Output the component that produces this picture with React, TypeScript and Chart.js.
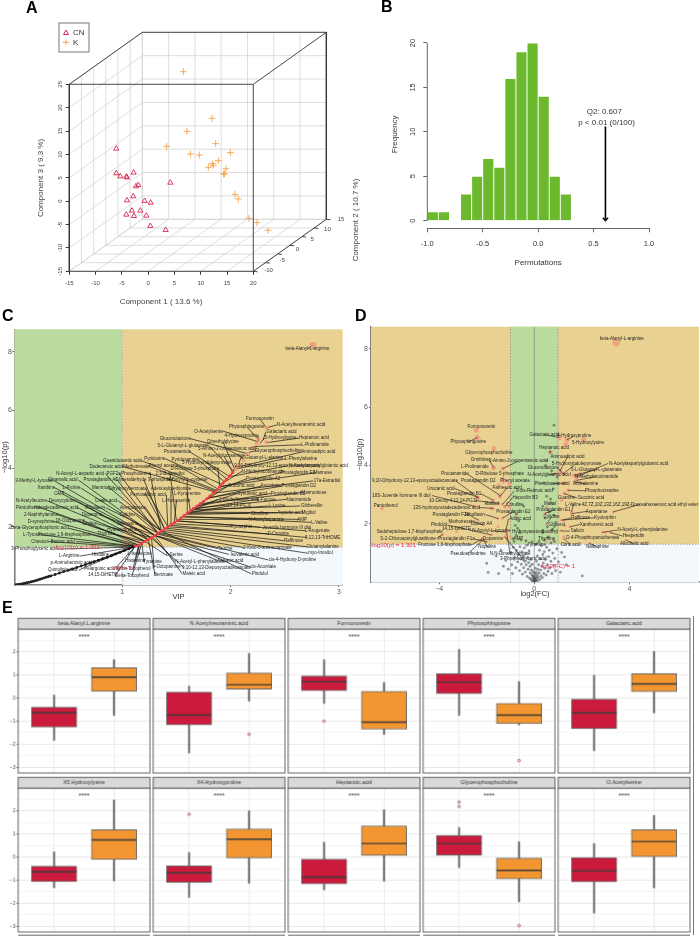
import React, { useEffect, useRef } from "react";
import { Chart, registerables } from "chart.js";

Chart.register(...registerables);
Chart.defaults.font.family = '"Liberation Sans", Arial, sans-serif';

/* ---------- Panel A: projected score positions ---------- */
const cnComp1 = [-6.06, -6.06, -5.3, -4.16, -4.03, -2.76, -1.87, -2.32, 4.21, -2.83, -4.03, -0.67, 0.47, -1.49, -3.08, -4.16, -2.7, -0.35, 0.41, 3.33];
const cnComp3 = [11.23, 5.96, 5.31, 5.24, 5.1, 6.1, 3.46, 3.18, 3.96, 1.04, 0.18, 0.04, -0.32, -2.03, -2.03, -2.88, -3.17, -3.1, -5.31, -6.16];
const kComp1 = [6.69, 12.14, 7.38, 12.84, 3.52, 8.02, 9.73, 15.63, 13.35, 12.2, 12.39, 11.44, 14.8, 14.36, 14.5, 16.52, 17.15, 19.18, 20.7, 22.79];
const kComp3 = [27.69, 17.72, 14.94, 12.3, 11.73, 10.09, 9.88, 10.37, 8.66, 8.02, 7.67, 7.24, 6.95, 5.81, 5.85, 1.46, 0.47, -3.67, -4.59, -6.23];
const comp1Ticks = [-15, -10, -5, 0, 5, 10, 15, 20];
const comp3Ticks = [-15, -10, -5, 0, 5, 10, 15, 20, 25];
const comp2Ticks = [-15, -10, -5, 0, 5, 10, 15];

/* ---------- Panel B: permutation histogram ---------- */
const permBins = [-0.95, -0.85, -0.75, -0.65, -0.55, -0.45, -0.35, -0.25, -0.15, -0.05, 0.05, 0.15, 0.25];
const permCounts = [1, 1, 0, 3, 5, 7, 6, 16, 19, 20, 14, 5, 3];
const q2Value = 0.607;

/* ---------- Panel C: VIP against -log10(p) ---------- */
const cLowVip = [0.02, 0.04, 0.06, 0.08, 0.1, 0.12, 0.14, 0.16, 0.18, 0.2, 0.22, 0.24, 0.26, 0.28, 0.3, 0.32, 0.34, 0.38, 0.42, 0.46, 0.5, 0.54, 0.58, 0.62, 0.66, 0.7, 0.74, 0.78, 0.82, 0.86, 0.9, 0.94, 0.98, 1.02, 1.06, 1.1];
const cLowP = [0.01, 0.02, 0.03, 0.045, 0.06, 0.075, 0.09, 0.11, 0.13, 0.15, 0.17, 0.195, 0.22, 0.245, 0.27, 0.29, 0.31, 0.36, 0.41, 0.46, 0.5, 0.55, 0.6, 0.65, 0.7, 0.75, 0.8, 0.85, 0.9, 0.95, 1, 1.06, 1.12, 1.18, 1.24, 1.3];
const cMidVip = [1.12, 1.15, 1.18, 1.21, 1.24, 1.27, 1.3, 1.33, 1.36, 1.39, 1.42, 1.45, 1.48, 1.51, 1.54, 1.57, 1.6, 1.63, 1.66, 1.69, 1.72, 1.75, 1.78, 1.81, 1.84, 1.87, 1.9, 1.93, 1.96, 1.99, 2.02];
const cMidP = [1.33, 1.37, 1.43, 1.5, 1.55, 1.62, 1.7, 1.78, 1.85, 1.92, 2, 2.07, 2.14, 2.21, 2.3, 2.38, 2.46, 2.55, 2.63, 2.71, 2.79, 2.87, 2.96, 3.05, 3.15, 3.25, 3.38, 3.5, 3.62, 3.74, 3.86];
const cTopVip = [2.76, 2.33, 2.26, 2.33, 2.24, 2.2, 2.16, 2.12, 2.08, 2.05];
const cTopP = [8.23, 5.4, 4.98, 4.9, 4.85, 4.7, 4.5, 4.28, 4.1, 3.98];
const cNames = [
  "beta-Alanyl-L-arginine", "Formononetin", "N-Acetylneuraminic acid", "Phytosphingosine", "Galactaric acid",
  "O-Acetylserine", "4-Hydroxyproline", "5-Hydroxylysine", "Heptanoic acid", "Gluconolactone",
  "Dimethylglycine", "5-L-Glutamyl-L-glutamate", "L-Prolinamide", "Glycerophosphocholine", "5-Amino-2-oxopentanoic acid",
  "Procainamide", "Aminoadipic acid", "N-Acetylglucosamine", "L-Glutamyl-L-alanine", "L-Phenylalanine",
  "Pyridoxine", "Guanidoacetic acid", "Pyridoxamine", "5-Hydroxyindolepyruvate", "9,10-Dihydroxy-12,13-epoxyoctadecanoate",
  "N-Acetylaspartylglutamic acid", "Dodecanoic acid", "Methotrexate", "Phenyl acetate", "D-Ribulose 5-phosphate",
  "N-Methylnicotinamide", "Mannose", "Prostaglandin E1", "Prostaglandin A2", "17a-Estradiol",
  "Prostaglandin D2", "Ascorbate", "Succinic acid", "Mannotriose", "Prostaglandin B1",
  "Kynurenic acid", "Niacinamide", "L-Fucose", "2-Methylbutyric acid", "Gibberellin",
  "L-Lysine", "10,14-PGJ2", "Miglitol", "Aspartic acid", "Citrulline",
  "L-Valine", "AMP", "N-Acetylaspartate", "L-Arogenate", "Juvenile hormone III diol",
  "Kyotorphin", "9,12,13-TriHOME", "D-Ocopine", "Raffinose", "Glutamylalanine",
  "myo-Inositol", "2-Keto-6-aminocaproate", "cis-4-Hydroxy-D-proline", "cis-Aconitate", "Pindolol",
  "Isovaleric acid", "Taurine", "Sebacic acid", "N-Acetyl-L-phenylalanine", "9,10-12,13-Diepoxyoctadecanoate",
  "Maleic acid", "p-Octopamine", "Benzoate", "Delta-Tocopherol", "14,15-DiHETE",
  "Quinolinic acid", "Pelargonic acid", "alpha-Tocopherol", "p-Aminobenzoic acid", "L-Arginine",
  "Histidine", "L-Isoleucine", "L-Serine", "Tyramine", "Histamine",
  "3-Phosphoglyceric acid", "Chavicol", "L-Tyrosine", "Fructose 1,6-bisphosphate", "Beta-Glycerophosphoric acid",
  "Biotinic acid", "D-synephrine", "18-Oocpamine", "2-Naphthylamine", "Pantothenol",
  "Hexadecadienoic acid", "N-Acetylleucine", "Deoxycytidine", "GMP", "Xanthine",
  "L-Proline", "3-Methyl-L-tyrosine", "Citramalic acid", "N-Acetyl-L-aspartic acid", "Prostaglandin A1",
  "PGF2a", "Phosphoserine", "2,3-Butanediol", "Mannitol", "Glyceraldehyde 3-phosphate",
  "N-Butyryl-L-cysteine", "Dihydroxybenzoate", "Adenosylmethionine", "L-Kynurenine", "Pentose",
  "Adipic acid", "Oxalic acid", "L-Homoserine", "Riboflavin", "Acetoacetate",
  "Dopamine", "Cytidine", "Uridine", "Adenosine", "Thymine",
  "Hydroxyproline",
];
const cVip = [
  2.76, 2.33, 2.34, 2.26, 2.3,
  2.25, 2.26, 2.27, 2.33, 2.16,
  2.04, 2.03, 2.22, 2.17, 2.12,
  1.98, 2.07, 2.02, 2.06, 2.05,
  1.92, 1.87, 1.94, 1.96, 2.0,
  2.0, 1.85, 1.86, 1.88, 1.9,
  1.93, 1.9, 1.89, 1.86, 1.84,
  1.8, 1.78, 1.75, 1.72, 1.7,
  1.68, 1.66, 1.65, 1.62, 1.64,
  1.62, 1.6, 1.62, 1.6, 1.58,
  1.56, 1.55, 1.52, 1.5, 1.5,
  1.46, 1.44, 1.42, 1.4, 1.38,
  1.36, 1.34, 1.33, 1.3, 1.36,
  1.3, 1.32, 1.3, 1.28, 1.27,
  1.3, 1.27, 1.24, 1.18, 1.12,
  1.1, 1.12, 1.15, 1.1, 1.1,
  1.12, 1.15, 1.21, 1.18, 1.16,
  1.1, 1.1, 1.12, 1.12, 1.13,
  1.12, 1.15, 1.15, 1.18, 1.18,
  1.21, 1.21, 1.24, 1.24, 1.27,
  1.3, 1.27, 1.3, 1.33, 1.33,
  1.36, 1.36, 1.5, 1.36, 1.39,
  1.6, 1.42, 1.45, 1.63, 1.39,
  1.42, 1.36, 1.48, 1.33, 1.36,
  1.3, 1.33, 1.27, 1.3, 1.2,
  1.24,
];
const cLogP = [
  8.23, 5.4, 5.4, 4.98, 4.98,
  4.92, 4.93, 4.85, 4.88, 4.5,
  3.95, 3.9, 4.75, 4.55, 4.35,
  3.75, 4.05, 3.85, 4.0, 3.98,
  3.45, 3.25, 3.55, 3.65, 3.75,
  3.72, 3.2, 3.22, 3.3, 3.4,
  3.5, 3.38, 3.35, 3.22, 3.15,
  3.0, 2.96, 2.87, 2.79, 2.72,
  2.68, 2.63, 2.6, 2.52, 2.58,
  2.52, 2.46, 2.5, 2.46, 2.42,
  2.36, 2.33, 2.25, 2.2, 2.2,
  2.1, 2.05, 2.0, 1.95, 1.9,
  1.85, 1.8, 1.78, 1.7, 1.85,
  1.7, 1.75, 1.7, 1.65, 1.62,
  1.7, 1.62, 1.55, 1.43, 1.33,
  1.3, 1.33, 1.37, 1.3, 1.3,
  1.33, 1.37, 1.5, 1.43, 1.4,
  1.3, 1.3, 1.33, 1.33, 1.35,
  1.33, 1.37, 1.37, 1.43, 1.43,
  1.5, 1.5, 1.55, 1.55, 1.62,
  1.7, 1.62, 1.7, 1.78, 1.78,
  1.85, 1.85, 2.2, 1.85, 1.92,
  2.46, 2.0, 2.07, 2.55, 1.92,
  2.0, 1.85, 2.14, 1.78, 1.85,
  1.7, 1.78, 1.62, 1.7, 1.5,
  1.55,
];
const cLabelVip = [
  2.71, 2.27, 2.65, 2.15, 2.47,
  1.8, 2.1, 2.46, 2.77, 1.49,
  1.93, 1.56, 2.78, 2.44, 1.97,
  1.51, 2.81, 1.94, 2.29, 2.65,
  1.3, 1.0, 1.58, 1.78, 2.43,
  2.81, 0.85, 1.13, 1.38, 1.67,
  2.3, 2.85, 2.62, 2.3, 2.89,
  2.63, 2.37, 2.1, 2.77, 2.53,
  2.2, 2.63, 2.33, 2.08, 2.75,
  2.43, 2.08, 2.72, 2.55, 2.27,
  2.82, 2.66, 2.33, 2.8, 2.52,
  2.1, 2.85, 2.44, 2.58, 2.85,
  2.83, 2.34, 2.57, 2.3, 2.27,
  2.13, 1.95, 2.0, 1.72, 1.87,
  1.66, 1.41, 1.38, 1.09, 0.82,
  0.45, 0.79, 1.1, 0.53, 0.51,
  0.8, 1.16, 1.48, 1.28, 1.12,
  0.19, 0.24, 0.18, 0.47, 0.24,
  0.45, 0.25, 0.52, 0.25, 0.13,
  0.39, 0.16, 0.45, 0.42, 0.3,
  0.53, 0.19, 0.45, 0.61, 0.8,
  0.92, 1.13, 1.44, 0.8, 1.2,
  1.6, 1.05, 1.45, 1.6, 1.15,
  1.3, 0.85, 1.5, 0.75, 1.1,
  0.72, 1.05, 0.7, 1.05, 0.85,
  1.0,
];
const cLabelP = [
  8.09, 5.69, 5.49, 5.42, 5.25,
  5.27, 5.12, 5.04, 5.04, 5.02,
  4.91, 4.79, 4.81, 4.61, 4.66,
  4.56, 4.56, 4.42, 4.38, 4.33,
  4.33, 4.27, 4.31, 4.19, 4.09,
  4.09, 4.07, 4.07, 4.09, 3.98,
  3.9, 3.85, 3.85, 3.64, 3.57,
  3.39, 3.39, 3.39, 3.17, 3.14,
  3.14, 2.94, 2.94, 2.94, 2.71,
  2.71, 2.71, 2.48, 2.47, 2.46,
  2.15, 2.25, 2.25, 1.86, 1.98,
  2.0, 1.63, 1.75, 1.52, 1.31,
  1.09, 1.28, 0.86, 0.63, 0.38,
  1.05, 1.25, 0.84, 0.8, 0.59,
  0.38, 0.63, 0.35, 0.33, 0.34,
  0.51, 0.57, 0.56, 0.77, 0.99,
  1.03, 1.06, 1.03, 0.8, 0.82,
  1.23, 1.49, 1.71, 1.73, 1.95,
  1.49, 2.18, 2.21, 2.42, 2.66,
  2.66, 2.89, 2.89, 3.12, 3.33,
  3.33, 3.57, 3.6, 3.83, 3.6,
  3.83, 3.83, 3.83, 3.35, 3.6,
  3.6, 3.3, 3.3, 3.13, 3.1,
  3.1, 2.9, 2.9, 2.65, 2.65,
  2.4, 2.4, 2.1, 2.1, 1.75,
  1.9,
];

/* ---------- Panel D: volcano plot ---------- */
const dNames = [
  "beta-Alanyl-L-arginine", "Formononetin", "Phytosphingosine", "Glycerophosphocholine", "Galactaric acid",
  "4-Hydroxyproline", "5-Hydroxylysine", "Heptanoic acid", "Aminoadipic acid", "5-Hydroxyindolepyruvate",
  "N-Acetylaspartylglutamic acid", "5-L-Glutamyl-L-glutamate", "Gluconolactone", "N-Acetylglutamic acid", "N-Methylnicotinamide",
  "Anthalamine", "Phenylacetic acid", "Phosphocreatine", "Succinic acid", "Guanine",
  "L-Valine", "4Z,7Z,10Z,13Z,16Z,19Z-Docosahexaenoic acid ethyl ester", "Aspartame", "Kyotorphin", "Raffinose",
  "Xanthurenic acid", "N-Acetyl-L-phenylalanine", "Salicin", "D-4-Phosphopantothenate", "Hesperidin",
  "Allocholic acid", "Nalbuphine", "Citric acid", "Ornithine", "5-Amino-2-oxopentanoic acid",
  "L-Prolinamide", "Procainamide", "D-Ribulose 5-phosphate", "9,10-Dihydroxy-12,13-epoxyoctadecanoate", "Prostaglandin D2",
  "Phenyl acetate", "Farnesoic acid", "Urocanic acid", "Prostaglandin B1", "9-cis-Retinoic acid",
  "10S-Juvenile hormone III diol", "10-Deoxy-4,12,14-PGJ2", "Pantothenol", "Hepoxilin B3", "Citrulline",
  "Maltitol", "13S-hydroxyoctadecadienoic acid", "Prostaglandin E2", "Prostaglandin F2a", "Riboflavin",
  "Methotrexate", "Lipoxin A4", "Pindolol", "Adipic acid", "14,15-DiHETE",
  "N-Acetyl-L-tyrosine", "Sedoheptulose 1,7-bisphosphate", "Hydroxyacetone", "S-2-Chloroacetylglutathione", "Prostaglandin F1a",
  "Dopamine", "Fructose 1,6-bisphosphate", "Nopaline", "Pseudoephedrine", "N,N-Dimethylglycine",
  "3-Phosphoglyceric acid", "Maltol", "Prostaglandin E1", "Cytidine", "Glycerol",
  "Succinyl", "Thymine", "AMP", "Tyramine",
];
const dFC = [
  3.45, -2.44, -2.4, -1.7, 1.05,
  1.38, 1.33, 0.69, 1.08, 1.22,
  1.78, 1.67, 1.22, 0.94, 1.78,
  1.7, 1.3, 1.43, 1.26, 1.15,
  1.57, 3.33, 1.57, 1.15, 1.22,
  1.5, 2.86, 1.11, 1.25, 3.2,
  3.86, 2.32, 1.25, -1.7, -1.33,
  -1.73, -1.45, -1.33, -2.36, -1.49,
  -1.05, -1.45, -2.36, -1.73, -1.33,
  -2.5, -1.49, -6.41, -1.24, -1.05,
  -1.8, -1.73, -1.33, -2.36, -1.52,
  -2.15, -1.52, -1.8, -1.19, -3.27,
  -1.16, -3.86, -1.02, -3.86, -2.0,
  -1.16, -2.19, -2.15, -2.18, -1.16,
  -1.24, 0.52, 0.45, 0.52, 0.7,
  0.6, 0.78, -0.67, 0.5,
];
const dLogP = [
  8.2, 5.21, 4.96, 4.58, 4.96,
  4.88, 4.72, 4.46, 3.81, 3.72,
  3.61, 3.66, 3.7, 3.72, 3.49,
  3.44, 3.4, 3.15, 3.04, 2.81,
  2.41, 2.41, 2.35, 2.13, 2.13,
  1.9, 1.71, 1.76, 1.56, 1.7,
  1.44, 1.33, 1.5, 3.92, 3.89,
  3.91, 2.98, 3.55, 2.9, 3.32,
  3.38, 2.93, 2.9, 2.81, 2.67,
  2.6, 2.7, 2.53, 2.58, 2.58,
  2.53, 2.53, 2.2, 2.13, 2.18,
  1.96, 1.9, 1.62, 1.78, 1.73,
  1.72, 1.64, 1.55, 1.64, 1.39,
  1.5, 1.5, 1.49, 1.44, 1.67,
  1.56, 2.58, 2.36, 2.0, 1.75,
  1.55, 1.42, 1.48, 1.38,
];
const dLabelFC = [
  3.68, -2.23, -2.78, -1.91, 0.42,
  1.68, 2.26, 0.83, 1.4, 1.78,
  4.39, 2.62, 0.38, 0.62, 2.62,
  2.16, 0.75, 2.84, 2.39, 1.36,
  1.64, 4.45, 2.62, 2.98, 1.95,
  2.62, 4.56, 1.81, 2.46, 4.17,
  4.21, 2.65, 1.53, -2.29, -0.67,
  -2.5, -3.34, -1.45, -5.02, -2.36,
  -0.81, -1.14, -3.93, -2.95, 0,
  -5.59, -3.41, -6.25, -0.39, -0.81,
  -1.8, -3.69, -0.88, -3.51, -2.5,
  -3.06, -2.22, -4.01, -0.6, -3.27,
  -1.8, -5.24, -0.25, -5.31, -3.27,
  -1.73, -3.76, -1.98, -2.78, -1.02,
  -0.46, 0.66, 0.8, 0.73, 0.94,
  0.66, 0.52, -0.67, 0.1,
];
const dLabelP = [
  8.32, 5.31, 4.8, 4.44, 5.05,
  5.01, 4.78, 4.6, 4.3, 4.07,
  4.07, 3.86, 3.91, 3.69, 3.62,
  3.37, 3.37, 3.13, 2.88, 2.9,
  2.66, 2.67, 2.43, 2.21, 2.21,
  1.98, 1.79, 1.75, 1.52, 1.58,
  1.31, 1.22, 1.27, 4.18, 4.15,
  3.95, 3.7, 3.7, 3.47, 3.47,
  3.47, 3.24, 3.21, 3.03, 3.13,
  2.97, 2.8, 2.62, 2.9, 2.67,
  2.7, 2.56, 2.42, 2.32, 2.32,
  2.07, 1.99, 1.96, 2.18, 1.83,
  1.76, 1.72, 1.73, 1.49, 1.48,
  1.5, 1.27, 1.21, 0.99, 0.99,
  0.79, 2.7, 2.47, 2.24, 1.98,
  1.73, 1.5, 1.48, 1.27,
];
const dExtraFC = [2.08, 3.0, -1.3, -0.75, 1.3, 1.9, 2.2];
const dExtraP = [4.9, 1.7, 3.45, 2.3, 1.95, 3.7, 1.55];
const dGrayFC = [
  0.83, 0.66, 0.52, 0.48, 0.73, 0.97, 0.4, 0.8, 0.52, 0.77, 0.68, 0.35, 0.62, 0.45, 0.82, 0.9, 0.55, 0.75, 0.35, 0.58,
  0.42, 0.2, -0.1, -0.75, -0.65, -0.8, -0.7, -0.6, -0.75, -0.9, -0.55, -0.35, -0.85, -0.45, 0.7, 0.85, 0.1,
  -1.94, 2.02, -2.0, 1.27, -1.6, -1.4, -1.2, -1.1, -1.0, -0.95, -0.92, -0.88, -0.82, -0.78, -0.75, -0.7, -0.66, -0.62, -0.6,
  -0.57, -0.55, -0.52, -0.5, -0.47, -0.45, -0.42, -0.4, -0.38, -0.36, -0.34, -0.32, -0.3, -0.28, -0.26, -0.24, -0.22, -0.2, -0.18, -0.17,
  -0.15, -0.14, -0.12, -0.1, -0.09, -0.08, -0.06, -0.05, -0.04, -0.03, -0.02, 0, 0.01, 0.02, 0.03, 0.04, 0.05, 0.06, 0.07, 0.08,
  0.09, 0.1, 0.12, 0.13, 0.14, 0.15, 0.17, 0.18, 0.2, 0.22, 0.23, 0.25, 0.27, 0.28, 0.3, 0.32, 0.34, 0.36, 0.38, 0.4,
  0.42, 0.44, 0.47, 0.5, 0.52, 0.55, 0.58, 0.6, 0.63, 0.66, 0.7, 0.74, 0.78, 0.82, 0.86, 0.9, 0.95, 1.02, 1.1, 1.15, 1.35, -1.3, -1.5,
];
const dGrayP = [
  5.38, 4.46, 4.17, 4.0, 3.82, 3.6, 3.4, 3.2, 2.95, 2.7, 2.85, 2.6, 2.4, 2.2, 2.3, 2.05, 1.9, 1.8, 1.7, 1.55,
  1.45, 1.4, 1.38, 2.35, 2.1, 1.95, 1.85, 1.7, 1.6, 1.5, 1.45, 1.42, 1.4, 2.6, 1.35, 1.4, 1.32,
  0.34, 0.22, 0.65, 0.87, 0.9, 1.1, 0.75, 0.45, 1.0, 0.6, 0.3, 1.2, 0.85, 0.5, 1.1, 0.7, 0.95, 0.4, 1.22,
  0.8, 0.62, 1.05, 0.28, 0.9, 0.5, 1.18, 0.72, 0.35, 0.98, 0.6, 1.27, 0.2, 0.85, 0.45, 0.68, 1.08, 0.15, 0.55, 0.32,
  0.78, 0.1, 0.42, 0.25, 0.62, 0.06, 0.18, 0.36, 0.03, 0.12, 0.22, 0.05, 0.15, 0.3, 0.02, 0.1, 0.48, 0.2, 0.07, 0.34,
  0.72, 0.14, 0.26, 0.9, 0.05, 0.44, 0.18, 0.6, 0.32, 1.1, 0.1, 0.8, 0.42, 0.22, 1.25, 0.55, 0.16, 0.95, 0.66, 0.3,
  1.05, 0.48, 0.78, 0.25, 1.2, 0.6, 0.38, 0.88, 1.1, 0.5, 0.72, 0.3, 1.0, 0.58, 0.82, 0.4, 1.15, 0.7, 0.35, 1.02, 0.6, 0.55, 0.3,
];

/* ---------- Panel E: boxplots, [low, q1, median, q3, high] ---------- */
const eNames = ["beta.Alanyl.L.arginine", "N.Acetylneuraminic.acid", "Formononetin", "Phytosphingosine", "Galactaric.acid", "X5.Hydroxylysine", "X4.Hydroxyproline", "Heptanoic.acid", "Glycerophosphocholine", "O.Acetylserine"];
const eCnBoxes = [
  [-1.83, -1.26, -0.64, -0.39, 0.13],
  [-2.38, -1.16, -0.74, 0.26, 0.52],
  [-0.23, 0.33, 0.71, 0.96, 1.67],
  [-0.75, 0.19, 0.7, 1.06, 2.12],
  [-2.28, -1.32, -0.64, -0.04, 0.99],
  [-1.33, -1.06, -0.64, -0.39, 0.23],
  [-1.74, -1.09, -0.68, -0.38, 0.2],
  [-1.42, -1.16, -0.87, -0.09, 0.65],
  [-0.45, 0.09, 0.59, 0.94, 1.29],
  [-2.43, -1.07, -0.59, 0, 0.59],
];
const eKBoxes = [
  [-0.75, 0.29, 0.91, 1.32, 1.67],
  [-0.13, 0.39, 0.58, 1.09, 1.94],
  [-1.58, -1.35, -1.04, 0.3, 0.68],
  [-1.16, -1.1, -0.74, -0.23, 0.72],
  [-0.64, 0.28, 0.62, 1.06, 2.03],
  [-1.03, -0.1, 0.75, 1.19, 2.48],
  [-1.13, -0.03, 0.78, 1.23, 2.01],
  [-1.04, 0.07, 0.59, 1.36, 2.06],
  [-1.94, -0.94, -0.57, -0.04, 0.67],
  [-1.33, 0, 0.68, 1.19, 1.81],
];
const eCnOutliers = [[], [], [-1], [], [], [], [1.86], [], [2.39, 2.2], []];
const eKOutliers = [[], [-1.57], [], [-2.71], [], [], [], [], [-2.97], []];
const eTickValues = [-3, -2.5, -2, -1.5, -1, -0.5, 0, 0.5, 1, 1.5, 2, 2.5];

/* ---------- shared helpers ---------- */
const INK = "#444";
const TAN = "#E9D291";
const GREEN = "#BCDB9E";
const PALE = "#F3F8FD";
const RED = "#CB1A3C";
const ORANGE = "#F39531";

const minus = (v) => String(v).replace("-", "\u2212");

function frame(c, a) {
  return {
    padding: { left: 0, top: a.t - c.y, right: c.x + c.w - a.r, bottom: 0 },
    yWidth: a.l - c.x,
    xHeight: c.y + c.h - a.b,
  };
}

function drawTexts(chart, items) {
  const { ctx, scales } = chart;
  for (const it of items) {
    ctx.save();
    ctx.translate(scales.x.getPixelForValue(it.x), scales.y.getPixelForValue(it.y));
    if (it.rot) ctx.rotate(it.rot);
    ctx.font = it.font || '5px "Liberation Sans"';
    ctx.fillStyle = it.color || "#222";
    ctx.textAlign = it.align || "center";
    ctx.textBaseline = "middle";
    ctx.fillText(it.t, 0, 0);
    ctx.restore();
  }
}

function fillRegions(chart, regions) {
  const { ctx, scales } = chart;
  for (const r of regions) {
    const x0 = scales.x.getPixelForValue(r.x0);
    const x1 = scales.x.getPixelForValue(r.x1);
    const y0 = scales.y.getPixelForValue(r.y0);
    const y1 = scales.y.getPixelForValue(r.y1);
    ctx.fillStyle = r.color;
    ctx.fillRect(x0, y1, x1 - x0, y0 - y1);
  }
}

function segments(pairs) {
  const out = [];
  for (const [a, b] of pairs) out.push({ x: a[0], y: a[1] }, { x: b[0], y: b[1] }, { x: null, y: null });
  return out;
}

function leaders(names, labelX, labelY, tx, ty, pxPerX, pxPerY, minPx) {
  const pairs = [];
  names.forEach((n, i) => {
    const half = (n.length * 1.05) / pxPerX;
    let ex = labelX[i];
    if (tx[i] < labelX[i] - half) ex = labelX[i] - half;
    else if (tx[i] > labelX[i] + half) ex = labelX[i] + half;
    const d = Math.hypot((ex - tx[i]) * pxPerX, (labelY[i] - ty[i]) * pxPerY);
    if (d > minPx) pairs.push([[tx[i], ty[i]], [ex, labelY[i]]]);
  });
  return segments(pairs);
}

const xy = (xs, ys) => xs.map((x, i) => ({ x, y: ys[i] }));

function ChartCanvas({ rect, build }) {
  const ref = useRef(null);
  useEffect(() => {
    const chart = new Chart(ref.current, build());
    return () => chart.destroy();
  }, []);
  return (
    <canvas
      ref={ref}
      width={rect.w}
      height={rect.h}
      style={{ position: "absolute", left: rect.x, top: rect.y, width: rect.w, height: rect.h }}
    />
  );
}

const baseOptions = {
  responsive: false,
  animation: false,
  events: [],
  plugins: { legend: { display: false }, tooltip: { enabled: false }, title: { display: false } },
};

/* ---------- Panel A ---------- */
const rectA = { x: 0, y: 0, w: 365, h: 310 };
function buildA() {
  const f = frame(rectA, { l: 69.3, t: 32.3, r: 326.7, b: 271.3 });
  const dx = 13.89;
  const dz = 11.12;
  const grid = [];
  comp1Ticks.forEach((v) => {
    grid.push([[v, -15], [v + dx, -15 + dz]]);
    grid.push([[v + dx, -15 + dz], [v + dx, 25 + dz]]);
  });
  comp3Ticks.forEach((v) => {
    grid.push([[-15, v], [-15 + dx, v + dz]]);
    grid.push([[-15 + dx, v + dz], [20 + dx, v + dz]]);
  });
  comp2Ticks.forEach((v) => {
    const k = (v + 15) / 30;
    grid.push([[-15 + dx * k, -15 + dz * k], [20 + dx * k, -15 + dz * k]]);
    grid.push([[-15 + dx * k, -15 + dz * k], [-15 + dx * k, 25 + dz * k]]);
  });
  const box = [
    [[-15, -15], [20, -15]], [[20, -15], [20, 25]], [[20, 25], [-15, 25]], [[-15, 25], [-15, -15]],
    [[-15, 25], [-15 + dx, 25 + dz]], [[-15 + dx, 25 + dz], [20 + dx, 25 + dz]],
    [[20, 25], [20 + dx, 25 + dz]], [[20 + dx, 25 + dz], [20 + dx, -15 + dz]], [[20, -15], [20 + dx, -15 + dz]],
  ];
  comp2Ticks.forEach((v) => {
    const k = (v + 15) / 30;
    box.push([[20 + dx * k, -15 + dz * k], [20.8 + dx * k, -15.1 + dz * k]]);
  });
  const axisFont = '6px "Liberation Sans"';
  const titleFont = '8px "Liberation Sans"';
  const texts = [
    { t: "Component 1 ( 13.6 %)", x: 2.44, y: -21.6, font: titleFont, color: INK },
    { t: "Component 3 ( 9.3 %)", x: -20.4, y: 4.96, font: titleFont, color: INK, rot: -Math.PI / 2 },
    { t: "Component 2 ( 10.7 %)", x: 39.5, y: -4.03, font: titleFont, color: INK, rot: -Math.PI / 2 },
    { t: "15", x: 36.7, y: -3.8, font: axisFont, color: INK },
    { t: "10", x: 34.1, y: -6, font: axisFont, color: INK },
    { t: "5", x: 31.2, y: -8.2, font: axisFont, color: INK },
    { t: "0", x: 28.4, y: -10.4, font: axisFont, color: INK },
    { t: "-5", x: 25.5, y: -12.6, font: axisFont, color: INK },
    { t: "-10", x: 22.9, y: -14.9, font: axisFont, color: INK },
  ];
  return {
    type: "scatter",
    data: {
      datasets: [
        { data: xy(cnComp1, cnComp3), pointStyle: "triangle", pointRadius: 3, borderColor: "#D8274F", backgroundColor: "transparent", pointBorderWidth: 0.9, clip: false },
        { data: xy(kComp1, kComp3), pointStyle: "cross", pointRadius: 3.4, borderColor: "#F6A24B", pointBorderWidth: 0.9, clip: false },
        { data: segments(box), showLine: true, pointRadius: 0, borderColor: "#333", borderWidth: 0.9, clip: false },
        { data: segments(grid), showLine: true, pointRadius: 0, borderColor: "#d4d4d4", borderWidth: 0.8, clip: false },
      ],
    },
    options: {
      ...baseOptions,
      layout: { autoPadding: false, padding: f.padding },
      scales: {
        x: {
          type: "linear", min: -15, max: 33.96,
          afterFit: (s) => { s.height = f.xHeight; },
          afterBuildTicks: (s) => { s.ticks = comp1Ticks.map((value) => ({ value })); },
          border: { display: false },
          grid: { drawOnChartArea: false, tickLength: 3.5, color: "#333" },
          ticks: { font: { size: 6 }, color: INK, padding: 5, autoSkip: false, maxRotation: 0, callback: (v) => String(v) },
        },
        y: {
          type: "linear", min: -15, max: 36.12,
          afterFit: (s) => { s.width = f.yWidth; },
          afterBuildTicks: (s) => { s.ticks = comp3Ticks.map((value) => ({ value })); },
          border: { display: false },
          grid: { drawOnChartArea: false, tickLength: 3.5, color: "#333" },
          ticks: { font: { size: 6 }, color: INK, padding: 1, autoSkip: false, minRotation: 90, maxRotation: 90, crossAlign: "center", callback: (v) => String(v) },
        },
      },
    },
    plugins: [{
      id: "panelA",
      afterDraw(chart) {
        drawTexts(chart, texts);
        const { ctx } = chart;
        ctx.save();
        ctx.fillStyle = "#fff";
        ctx.strokeStyle = "#777";
        ctx.lineWidth = 1;
        ctx.fillRect(59, 23, 30, 29);
        ctx.strokeRect(59, 23, 30, 29);
        ctx.strokeStyle = "#D8274F";
        ctx.beginPath();
        ctx.moveTo(66, 30);
        ctx.lineTo(68.5, 34.5);
        ctx.lineTo(63.5, 34.5);
        ctx.closePath();
        ctx.stroke();
        ctx.strokeStyle = "#F6A24B";
        ctx.beginPath();
        ctx.moveTo(66, 39.5);
        ctx.lineTo(66, 45);
        ctx.moveTo(63, 42.3);
        ctx.lineTo(69, 42.3);
        ctx.stroke();
        ctx.fillStyle = "#333";
        ctx.font = '8px "Liberation Sans"';
        ctx.textBaseline = "middle";
        ctx.fillText("CN", 73, 32.7);
        ctx.fillText("K", 73, 42.5);
        ctx.restore();
      },
    }],
  };
}

/* ---------- Panel B ---------- */
const rectB = { x: 370, y: 20, w: 300, h: 260 };
function buildB() {
  const f = frame(rectB, { l: 427.3, t: 40.3, r: 649, b: 228.3 });
  const font = '8px "Liberation Sans"';
  const texts = [
    { t: "Q2: 0.607", x: 0.597, y: 12.23, font, color: "#333" },
    { t: "p < 0.01 (0/100)", x: 0.617, y: 11.07, font, color: "#333" },
  ];
  return {
    type: "bar",
    data: {
      datasets: [
        { type: "line", data: [{ x: q2Value, y: 10.6 }, { x: q2Value, y: 0.1 }], borderColor: "#000", borderWidth: 1.6, pointRadius: 0, clip: false },
        { type: "line", data: [{ x: -1, y: 0 }, { x: -1, y: 20 }], borderColor: "#666", borderWidth: 1, pointRadius: 0, clip: false },
        { data: xy(permBins, permCounts), backgroundColor: "#6CB92E", borderColor: "#ffffff", borderWidth: 0.8, barPercentage: 1, categoryPercentage: 1 },
      ],
    },
    options: {
      ...baseOptions,
      layout: { autoPadding: false, padding: f.padding },
      scales: {
        x: {
          type: "linear", min: -1, max: 1, offset: false,
          afterFit: (s) => { s.height = f.xHeight; },
          afterBuildTicks: (s) => { s.ticks = [-1, -0.5, 0, 0.5, 1].map((value) => ({ value })); },
          border: { display: true, color: "#666", width: 1 },
          grid: { offset: false, drawOnChartArea: false, tickLength: 4, color: "#666" },
          ticks: { font: { size: 7.5 }, color: "#333", padding: 7, autoSkip: false, maxRotation: 0, callback: (v) => Number(v).toFixed(1) },
          title: { display: true, text: "Permutations", font: { size: 8 }, color: "#333", padding: { top: 0, bottom: 12.5 } },
        },
        y: {
          type: "linear", min: -0.855, max: 20.3,
          afterFit: (s) => { s.width = f.yWidth; },
          afterBuildTicks: (s) => { s.ticks = [0, 5, 10, 15, 20].map((value) => ({ value })); },
          border: { display: false },
          grid: { drawOnChartArea: false, tickLength: 4, color: "#666" },
          ticks: { font: { size: 7.5 }, color: "#333", padding: 6, autoSkip: false, minRotation: 90, maxRotation: 90, crossAlign: "center", callback: (v) => String(v) },
          title: { display: true, text: "Frequency", font: { size: 8 }, color: "#333", padding: { top: 20, bottom: 0 } },
        },
      },
    },
    plugins: [{
      id: "panelB",
      afterDraw(chart) {
        drawTexts(chart, texts);
        const { ctx, scales } = chart;
        const px = scales.x.getPixelForValue(q2Value);
        const py = scales.y.getPixelForValue(0);
        ctx.save();
        ctx.strokeStyle = "#000";
        ctx.lineWidth = 1.5;
        ctx.beginPath();
        ctx.moveTo(px - 2.6, py - 3);
        ctx.lineTo(px, py);
        ctx.lineTo(px + 2.6, py - 3);
        ctx.stroke();
        ctx.restore();
      },
    }],
  };
}

/* ---------- Panel C ---------- */
const rectC = { x: 0, y: 320, w: 350, h: 285 };
function buildC() {
  const f = frame(rectC, { l: 14.3, t: 329.3, r: 342.7, b: 585 });
  const lbl = '4.5px "Liberation Sans"';
  const texts = cNames.map((t, i) => ({ t, x: cLabelVip[i], y: cLabelP[i], font: lbl, color: "#222" }));
  texts.push({ t: "-log10(p) = 1.301", x: 0.58, y: 1.29, font: '6px "Liberation Sans"', color: "#EE2A3A" });
  texts.push({ t: "VIP = 1", x: 1.0, y: 0.56, font: '6px "Liberation Sans"', color: "#EE2A3A" });
  return {
    type: "scatter",
    data: {
      datasets: [
        { data: xy(cTopVip, cTopP), pointRadius: cTopP.map((p) => (p > 8 ? 3.4 : 2.1)), backgroundColor: "rgba(240,150,125,0.8)", borderWidth: 0 },
        { data: xy(cMidVip, cMidP), showLine: true, borderColor: "#EE3B4C", borderWidth: 1.3, pointRadius: 0.9, backgroundColor: "#EE3B4C" },
        { data: leaders(cNames, cLabelVip, cLabelP, cVip, cLogP, 108.3, 29.17, 3), showLine: true, pointRadius: 0, borderColor: "#111", borderWidth: 0.7 },
        { data: xy(cLowVip, cLowP), showLine: true, borderColor: "#222", borderWidth: 1.3, pointRadius: 0.8, backgroundColor: "#222" },
        { data: segments([[[1, 0], [1, 8.77]], [[0, 1.301], [3.04, 1.301]]]), showLine: true, pointRadius: 0, borderColor: "#999", borderWidth: 0.7, borderDash: [1.5, 1.5] },
      ],
    },
    options: {
      ...baseOptions,
      layout: { autoPadding: false, padding: f.padding },
      scales: {
        x: {
          type: "linear", min: 0.003, max: 3.035,
          afterFit: (s) => { s.height = f.xHeight; },
          afterBuildTicks: (s) => { s.ticks = [1, 2, 3].map((value) => ({ value })); },
          border: { display: true, color: "#808080", width: 1.6 },
          grid: { drawOnChartArea: false, tickLength: 2, color: "#666" },
          ticks: { font: { size: 7 }, color: "#555", padding: 0.5, autoSkip: false, maxRotation: 0, callback: (v) => String(v) },
          title: { display: true, text: "VIP", font: { size: 7.5 }, color: "#333", padding: { top: 0, bottom: 3.8 } },
        },
        y: {
          type: "linear", min: 0, max: 8.77,
          afterFit: (s) => { s.width = f.yWidth; },
          afterBuildTicks: (s) => { s.ticks = [2, 4, 6, 8].map((value) => ({ value })); },
          border: { display: true, color: "#808080", width: 1.6 },
          grid: { drawOnChartArea: false, tickLength: 2, color: "#666" },
          ticks: { font: { size: 7 }, color: "#555", padding: 0.5, autoSkip: false, callback: (v) => String(v) },
          title: { display: true, text: "\u2212log10(p)", font: { size: 7.5 }, color: "#333", padding: { top: 0, bottom: 0 } },
        },
      },
    },
    plugins: [{
      id: "panelC",
      beforeDatasetsDraw(chart) {
        fillRegions(chart, [
          { x0: 0.003, x1: 1, y0: 1.301, y1: 8.77, color: GREEN },
          { x0: 1, x1: 3.035, y0: 1.301, y1: 8.77, color: TAN },
          { x0: 1, x1: 3.035, y0: 0, y1: 1.301, color: PALE },
        ]);
      },
      afterDraw(chart) { drawTexts(chart, texts); },
    }],
  };
}

/* ---------- Panel D ---------- */
const rectD = { x: 350, y: 320, w: 350, h: 285 };
function buildD() {
  const f = frame(rectD, { l: 371, t: 326.7, r: 699, b: 582.3 });
  const lbl = '4.5px "Liberation Sans"';
  const texts = dNames.map((t, i) => ({ t, x: dLabelFC[i], y: dLabelP[i], font: lbl, color: "#222" }));
  texts.push({ t: "-log10(p) = 1.301", x: -5.94, y: 1.27, font: '6px "Liberation Sans"', color: "#EE2A3A" });
  texts.push({ t: "log2(FC) = 1", x: 1.01, y: 0.53, font: '6px "Liberation Sans"', color: "#EE2A3A" });
  const radius = (p) => 0.9 + p * 0.33;
  return {
    type: "scatter",
    data: {
      datasets: [
        { data: leaders(dNames, dLabelFC, dLabelP, dFC, dLogP, 23.77, 29.25, 7), showLine: true, pointRadius: 0, borderColor: "#111", borderWidth: 0.6 },
        { data: xy(dGrayFC, dGrayP), pointRadius: 1.2, backgroundColor: "rgba(70,70,70,0.5)", borderColor: "rgba(40,40,40,0.6)", pointBorderWidth: 0.3 },
        { data: xy(dFC, dLogP), pointRadius: dLogP.map(radius), backgroundColor: "rgba(240,150,125,0.8)", borderWidth: 0 },
        { data: xy(dExtraFC, dExtraP), pointRadius: dExtraP.map(radius), backgroundColor: "rgba(240,150,125,0.8)", borderWidth: 0 },
        { data: segments([[[-1, 0], [-1, 8.75]], [[1, 0], [1, 8.75]], [[-6.87, 1.301], [6.93, 1.301]]]), showLine: true, pointRadius: 0, borderColor: "#888", borderWidth: 0.7, borderDash: [1.5, 1.5] },
        { data: segments([[[0, 0], [0, 8.75]]]), showLine: true, pointRadius: 0, borderColor: "rgba(120,120,120,0.6)", borderWidth: 1 },
      ],
    },
    options: {
      ...baseOptions,
      layout: { autoPadding: false, padding: f.padding },
      scales: {
        x: {
          type: "linear", min: -6.87, max: 6.93,
          afterFit: (s) => { s.height = f.xHeight; },
          afterBuildTicks: (s) => { s.ticks = [-4, 0, 4].map((value) => ({ value })); },
          border: { display: true, color: "#808080", width: 1.6 },
          grid: { drawOnChartArea: false, tickLength: 2, color: "#666" },
          ticks: { font: { size: 7 }, color: "#555", padding: 0.5, autoSkip: false, maxRotation: 0, callback: minus },
          title: { display: true, text: "log2(FC)", font: { size: 7.5 }, color: "#333", padding: { top: 0, bottom: 6.2 } },
        },
        y: {
          type: "linear", min: 0, max: 8.75,
          afterFit: (s) => { s.width = f.yWidth; },
          afterBuildTicks: (s) => { s.ticks = [2, 4, 6, 8].map((value) => ({ value })); },
          border: { display: true, color: "#808080", width: 1.6 },
          grid: { drawOnChartArea: false, tickLength: 2, color: "#666" },
          ticks: { font: { size: 7 }, color: "#555", padding: 1, autoSkip: false, callback: (v) => String(v) },
          title: { display: true, text: "\u2212log10(p)", font: { size: 7.5 }, color: "#333", padding: { top: 5.5, bottom: 0 } },
        },
      },
    },
    plugins: [{
      id: "panelD",
      beforeDatasetsDraw(chart) {
        fillRegions(chart, [
          { x0: -6.87, x1: 6.93, y0: 1.301, y1: 8.75, color: TAN },
          { x0: -1, x1: 1, y0: 1.301, y1: 8.75, color: GREEN },
          { x0: -6.87, x1: 6.93, y0: 0, y1: 1.301, color: PALE },
        ]);
      },
      afterDraw(chart) { drawTexts(chart, texts); },
    }],
  };
}

/* ---------- Panel E ---------- */
const eColumns = [18.3, 153.3, 288.3, 423.3, 558.3];
const eRows = [629.3, 788.3];
const ePanelW = 131.4;
const ePanelH = 143.8;
const eLeft = 18;

function eRect(i) {
  const col = i % 5;
  const row = Math.floor(i / 5);
  return { x: eColumns[col] - eLeft, y: eRows[row] - 12, w: eLeft + ePanelW + 2, h: 12 + ePanelH + 5 };
}

function buildE(i) {
  const rect = eRect(i);
  const col = i % 5;
  const row = Math.floor(i / 5);
  const f = frame(rect, { l: eColumns[col], t: eRows[row], r: eColumns[col] + ePanelW, b: eRows[row] + ePanelH });
  const cn = eCnBoxes[i];
  const k = eKBoxes[i];
  const outliers = [...eCnOutliers[i].map((y) => ({ x: 1, y })), ...eKOutliers[i].map((y) => ({ x: 2, y }))];
  const fills = [RED, ORANGE];
  return {
    type: "bar",
    data: {
      datasets: [
        { type: "line", data: outliers, showLine: false, pointRadius: 1.3, backgroundColor: "#ddd", borderColor: "#A8575C", pointBorderWidth: 0.8 },
        { type: "line", data: [{ x: 1, y: cn[2] }, { x: 2, y: k[2] }], showLine: false, pointStyle: "line", pointRadius: 22.4, borderColor: "#3B3B3B", pointBorderWidth: 1.4 },
        { data: [{ x: 1, y: [cn[1], cn[3]] }, { x: 2, y: [k[1], k[3]] }], grouped: false, barThickness: 45, backgroundColor: fills, borderColor: "#666", borderWidth: 1, borderSkipped: false },
        { data: [{ x: 1, y: [cn[0], cn[4]] }, { x: 2, y: [k[0], k[4]] }], grouped: false, barThickness: 1.3, backgroundColor: "#666", borderWidth: 0 },
      ],
    },
    options: {
      ...baseOptions,
      layout: { autoPadding: false, padding: f.padding },
      scales: {
        x: {
          type: "linear", min: 0.4, max: 2.6, offset: false,
          afterFit: (s) => { s.height = f.xHeight; },
          afterBuildTicks: (s) => { s.ticks = [1, 2].map((value) => ({ value })); },
          border: { display: false },
          grid: { offset: false, color: "#ececec", lineWidth: 1, drawTicks: false },
          ticks: { display: false },
        },
        y: {
          type: "linear", min: -3.25, max: 3,
          afterFit: (s) => { s.width = f.yWidth; },
          afterBuildTicks: (s) => { s.ticks = eTickValues.map((value) => ({ value })); },
          border: { display: false },
          grid: {
            color: (c) => (Number.isInteger(c.tick.value) ? "#e8e8e8" : "#f4f4f4"),
            tickColor: (c) => (col === 0 && Number.isInteger(c.tick.value) ? "#666" : "rgba(0,0,0,0)"),
            tickLength: 1.5,
          },
          ticks: {
            display: col === 0,
            font: { size: 5.5 },
            color: "#555",
            padding: 1,
            autoSkip: false,
            callback: (v) => (Number.isInteger(v) ? minus(v) : ""),
          },
        },
      },
    },
    plugins: [{
      id: "panelE",
      afterDatasetsDraw(chart) {
        drawTexts(chart, [{ t: "****", x: 1.5, y: 2.63, font: '7px "Liberation Sans"', color: "#333" }]);
      },
      afterDraw(chart) {
        const { ctx, chartArea: a } = chart;
        const w = a.right - a.left;
        ctx.save();
        ctx.lineWidth = 1;
        ctx.strokeStyle = "#666";
        ctx.strokeRect(a.left, a.top, w, a.bottom - a.top);
        ctx.fillStyle = "#D9D9D9";
        ctx.fillRect(a.left, a.top - 10.7, w, 10.7);
        ctx.strokeRect(a.left, a.top - 10.7, w, 10.7);
        ctx.fillStyle = "#333";
        ctx.font = '5.4px "Liberation Sans"';
        ctx.textAlign = "center";
        ctx.textBaseline = "middle";
        ctx.fillText(eNames[i], (a.left + a.right) / 2, a.top - 5.2);
        if (row === 1) {
          ctx.beginPath();
          ctx.moveTo(a.left, a.bottom + 3.2);
          ctx.lineTo(a.right, a.bottom + 3.2);
          ctx.stroke();
        }
        ctx.restore();
      },
    }],
  };
}

const panelLetters = [
  ["A", 26, -1],
  ["B", 381, -2],
  ["C", 2, 307],
  ["D", 355, 307],
  ["E", 2, 599],
];

export default function App() {
  return (
    <div style={{ position: "absolute", left: 0, top: 0, width: 700, height: 937, background: "#fff", overflow: "hidden", fontFamily: '"Liberation Sans", Arial, sans-serif' }}>
      <ChartCanvas rect={rectA} build={buildA} />
      <ChartCanvas rect={rectB} build={buildB} />
      <ChartCanvas rect={rectC} build={buildC} />
      <ChartCanvas rect={rectD} build={buildD} />
      {eNames.map((n, i) => (
        <ChartCanvas key={n} rect={eRect(i)} build={() => buildE(i)} />
      ))}
      <div style={{ position: "absolute", left: 693, top: 616, width: 1, height: 319, background: "#777" }} />
      {panelLetters.map(([t, x, y]) => (
        <div key={t} style={{ position: "absolute", left: x, top: y, fontSize: 16, fontWeight: 700, color: "#000", lineHeight: "18px" }}>{t}</div>
      ))}
    </div>
  );
}
